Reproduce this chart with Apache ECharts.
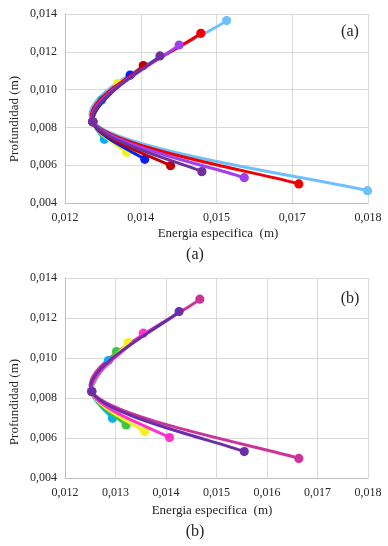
<!DOCTYPE html>
<html>
<head>
<meta charset="utf-8">
<script src="https://cdn.jsdelivr.net/npm/echarts@6/dist/echarts.min.js"></script>
<style>
  html, body { margin: 0; padding: 0; background: #fff; }
  #chart { width: 388px; height: 546px; }
</style>
</head>
<body>
<div id="chart"></div>
<script>
// panel (a): each run has [energy, depth] points (top, critical, bottom)
const runsA = [
  [[0.01520, 0.01365], [0.01255, 0.00830], [0.01799, 0.00465]],
  [[0.01273, 0.00945], [0.01255, 0.00830], [0.01278, 0.00737]],
  [[0.01304, 0.01033], [0.01255, 0.00830], [0.01322, 0.00668]],
  [[0.01329, 0.01077], [0.01255, 0.00830], [0.01358, 0.00631]],
  [[0.01355, 0.01127], [0.01255, 0.00830], [0.01409, 0.00597]],
  [[0.01469, 0.01298], [0.01255, 0.00830], [0.01663, 0.00501]],
  [[0.01426, 0.01236], [0.01255, 0.00830], [0.01555, 0.00534]],
  [[0.01388, 0.01178], [0.01255, 0.00830], [0.01471, 0.00566]]
];
const colorsA = ['#6EC0F8', '#00B0F0', '#F2F21E', '#0A1EF0', '#C00000', '#F00000', '#A040F0', '#7030A0'];

// panel (b)
const runsB = [
  [[0.01467, 0.01294], [0.01253, 0.00832], [0.01663, 0.00498]],
  [[0.01286, 0.00987], [0.01253, 0.00832], [0.01294, 0.00699]],
  [[0.01302, 0.01032], [0.01253, 0.00832], [0.01321, 0.00665]],
  [[0.01325, 0.01077], [0.01253, 0.00832], [0.01358, 0.00632]],
  [[0.01355, 0.01124], [0.01253, 0.00832], [0.01407, 0.00602]],
  [[0.01426, 0.01232], [0.01253, 0.00832], [0.01555, 0.00532]]
];
const colorsB = ['#CC3399', '#00B0F0', '#3CC83C', '#F2F21E', '#FF33CC', '#6A2FA8'];

const xNameText = 'Energia especifica  (m)';
const yNameText = 'Profundidad (m)';

const font = "'Liberation Serif', 'Times New Roman', serif";
const textColor = '#262626';

// excel-like rounding to 3 decimals, comma separator
function fmt(v) {
  return (Math.round(v * 1000 + 1e-6) / 1000).toFixed(3).replace('.', ',');
}

function makeX(idx, interval) {
  return {
    type: 'value', gridIndex: idx, min: 0.012, max: 0.018, interval: interval,
    axisLine: { show: true, lineStyle: { color: '#BFBFBF', width: 1 } },
    axisTick: { show: false },
    splitLine: { show: true, lineStyle: { color: '#D9D9D9', width: 1 } },
    axisLabel: { color: textColor, fontFamily: font, fontSize: 12, margin: 9, formatter: fmt }
  };
}

function makeY(idx) {
  return {
    type: 'value', gridIndex: idx, min: 0.004, max: 0.014, interval: 0.002,
    axisLine: { show: true, lineStyle: { color: '#BFBFBF', width: 1 } },
    axisTick: { show: false },
    splitLine: { show: true, lineStyle: { color: '#D9D9D9', width: 1 } },
    axisLabel: { color: textColor, fontFamily: font, fontSize: 12, margin: 8, formatter: fmt }
  };
}

// spreadsheet style smoothing: each item draws its segment to the next point plus its marker
function smoothRenderer(color) {
  return function (params, api) {
    const i = params.dataIndexInside;
    const n = params.dataInsideLength;
    const pt = (k) => api.coord([api.value(0, k), api.value(1, k)]);
    const p1 = pt(i);
    const children = [];
    if (i < n - 1) {
      const p0 = i > 0 ? pt(i - 1) : p1;
      const p2 = pt(i + 1);
      const p3 = i + 2 < n ? pt(i + 2) : p2;
      children.push({
        type: 'bezierCurve',
        shape: {
          x1: p1[0], y1: p1[1],
          cpx1: p1[0] + (p2[0] - p0[0]) / 6, cpy1: p1[1] + (p2[1] - p0[1]) / 6,
          cpx2: p2[0] - (p3[0] - p1[0]) / 6, cpy2: p2[1] - (p3[1] - p1[1]) / 6,
          x2: p2[0], y2: p2[1]
        },
        style: { stroke: color, lineWidth: 3, fill: null, lineCap: 'round' }
      });
    }
    children.push({ type: 'circle', shape: { cx: p1[0], cy: p1[1], r: 4.6 }, style: { fill: color } });
    return { type: 'group', children: children };
  };
}

function makeSeries(runs, colors, idx) {
  return runs.map((run, i) => ({
    type: 'custom', xAxisIndex: idx, yAxisIndex: idx,
    data: run, encode: { x: 0, y: 1 }, clip: false,
    renderItem: smoothRenderer(colors[i]),
    z: 2 + i
  }));
}

function txt(text, x, y, size, rotation) {
  return {
    type: 'text', x: x, y: y, rotation: rotation || 0,
    style: { text: text, fill: textColor, font: size + 'px ' + font,
      align: 'center', verticalAlign: 'middle' }
  };
}

const chart = echarts.init(document.getElementById('chart'));
chart.setOption({
  animation: false,
  backgroundColor: '#fff',
  grid: [
    { left: 65, top: 14, width: 303, height: 189 },
    { left: 65, top: 278, width: 303, height: 200 }
  ],
  xAxis: [makeX(0, 0.0015), makeX(1, 0.001)],
  yAxis: [makeY(0), makeY(1)],
  series: makeSeries(runsA, colorsA, 0).concat(makeSeries(runsB, colorsB, 1)),
  graphic: [
    txt(yNameText, 15, 119, 13, Math.PI / 2),
    txt(xNameText, 218, 234, 13),
    txt('(a)', 195, 255, 16),
    txt('(a)', 350, 32, 16),
    txt(yNameText, 15, 402, 13, Math.PI / 2),
    txt(xNameText, 212, 511, 13),
    txt('(b)', 195, 532, 16),
    txt('(b)', 350, 299, 16)
  ]
});
</script>
</body>
</html>
